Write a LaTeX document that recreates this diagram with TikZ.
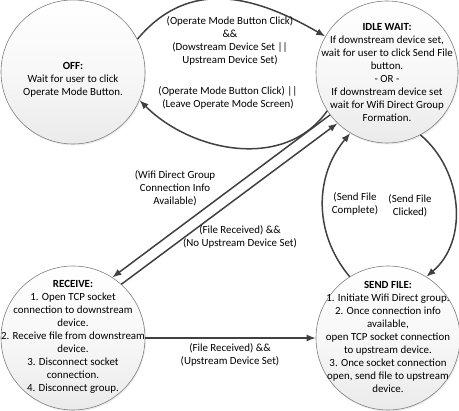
\documentclass[tikz,border=0pt]{standalone}
\usepackage{fontspec}
\setmainfont{Carlito}
\usetikzlibrary{arrows.meta,shadows}
\definecolor{edgegray}{HTML}{404040}
\definecolor{rimgray}{HTML}{7F7F7F}
\begin{document}
\begin{tikzpicture}
	[x=1pt,y=-1pt,
		state/.style={circle,draw=rimgray,line width=0.6pt,minimum size=144pt,inner sep=0pt,top color=white,bottom color=black!8,middle color=black!3,drop shadow={opacity=0.15,shadow xshift=1pt,shadow yshift=-1.5pt}},
		state text/.style={align=center,inner sep=0pt,font=\fontsize{10.9}{13}\selectfont},
		cond/.style={align=center,inner sep=0pt,font=\fontsize{10.9}{13}\selectfont},
		trans/.style={-{Latex[length=9pt,width=7pt]},draw=edgegray,line width=1.5pt}]
	\useasboundingbox (0,0) rectangle (459,411);
	\node[state] (off) at (73,72) {};
	\node[state,minimum size=142pt] (idle) at (387,72) {};
	\node[state] (receive) at (73,338) {};
	\node[state] (send) at (388,338) {};
	\node[state text] (offtext) at (73,80) {\textbf{OFF:}\\Wait for user to click\\Operate Mode Button.};
	\node[state text] (idletext) at (387,73) {\textbf{IDLE WAIT:}\\If downstream device set,\\wait for user to click Send File\\button.\\- OR -\\If downstream device set\\wait for Wifi Direct Group\\Formation.};
	\node[state text] (receivetext) at (73,337) {\textbf{RECEIVE:}\\1. Open TCP socket\\connection to downstream\\device.\\2. Receive file from downstream\\device.\\3. Disconnect socket\\connection.\\4. Disconnect group.};
	\node[state text] (sendtext) at (388,337) {\textbf{SEND FILE:}\\1. Initiate Wifi Direct group.\\2. Once connection info\\available,\\open TCP socket connection\\to upstream device.\\3. Once socket connection\\open, send file to upstream\\device.};
	%transitions
	\draw[trans] (off.27) to[out=50,in=150,looseness=1.1] (idle.150);
	\draw[trans] (idle.213) to[out=235,in=-45] (off.-23);
	\draw[trans] (idle.217) -- (receive.57);
	\draw[trans] (receive.48) -- (idle.226);
	\draw[trans] (receive.east) -- (send.west);
	\draw[trans] (send.122) to[out=130,in=-130] (idle.-121);
	\draw[trans] (idle.-62) to[out=-40,in=40] (send.58);
	%conditions
	\node[cond] (opmode) at (230,41) {(Operate Mode Button Click)\\\&\&\\(Dowstream Device Set ||\\Upstream Device Set)};
	\node[cond] (leave) at (228,98) {(Operate Mode Button Click) ||\\(Leave Operate Mode Screen)};
	\node[cond] (groupinfo) at (175,188) {(Wifi Direct Group\\Connection Info\\Available)};
	\node[cond] (noupstream) at (240,237) {(File Received) \&\&\\(No Upstream Device Set)};
	\node[cond] (upstream) at (230,355) {(File Received) \&\&\\(Upstream Device Set)};
	\node[cond] (complete) at (355,204) {(Send File\\Complete)};
	\node[cond] (clicked) at (410,206) {(Send File\\Clicked)};
\end{tikzpicture}
\end{document}
